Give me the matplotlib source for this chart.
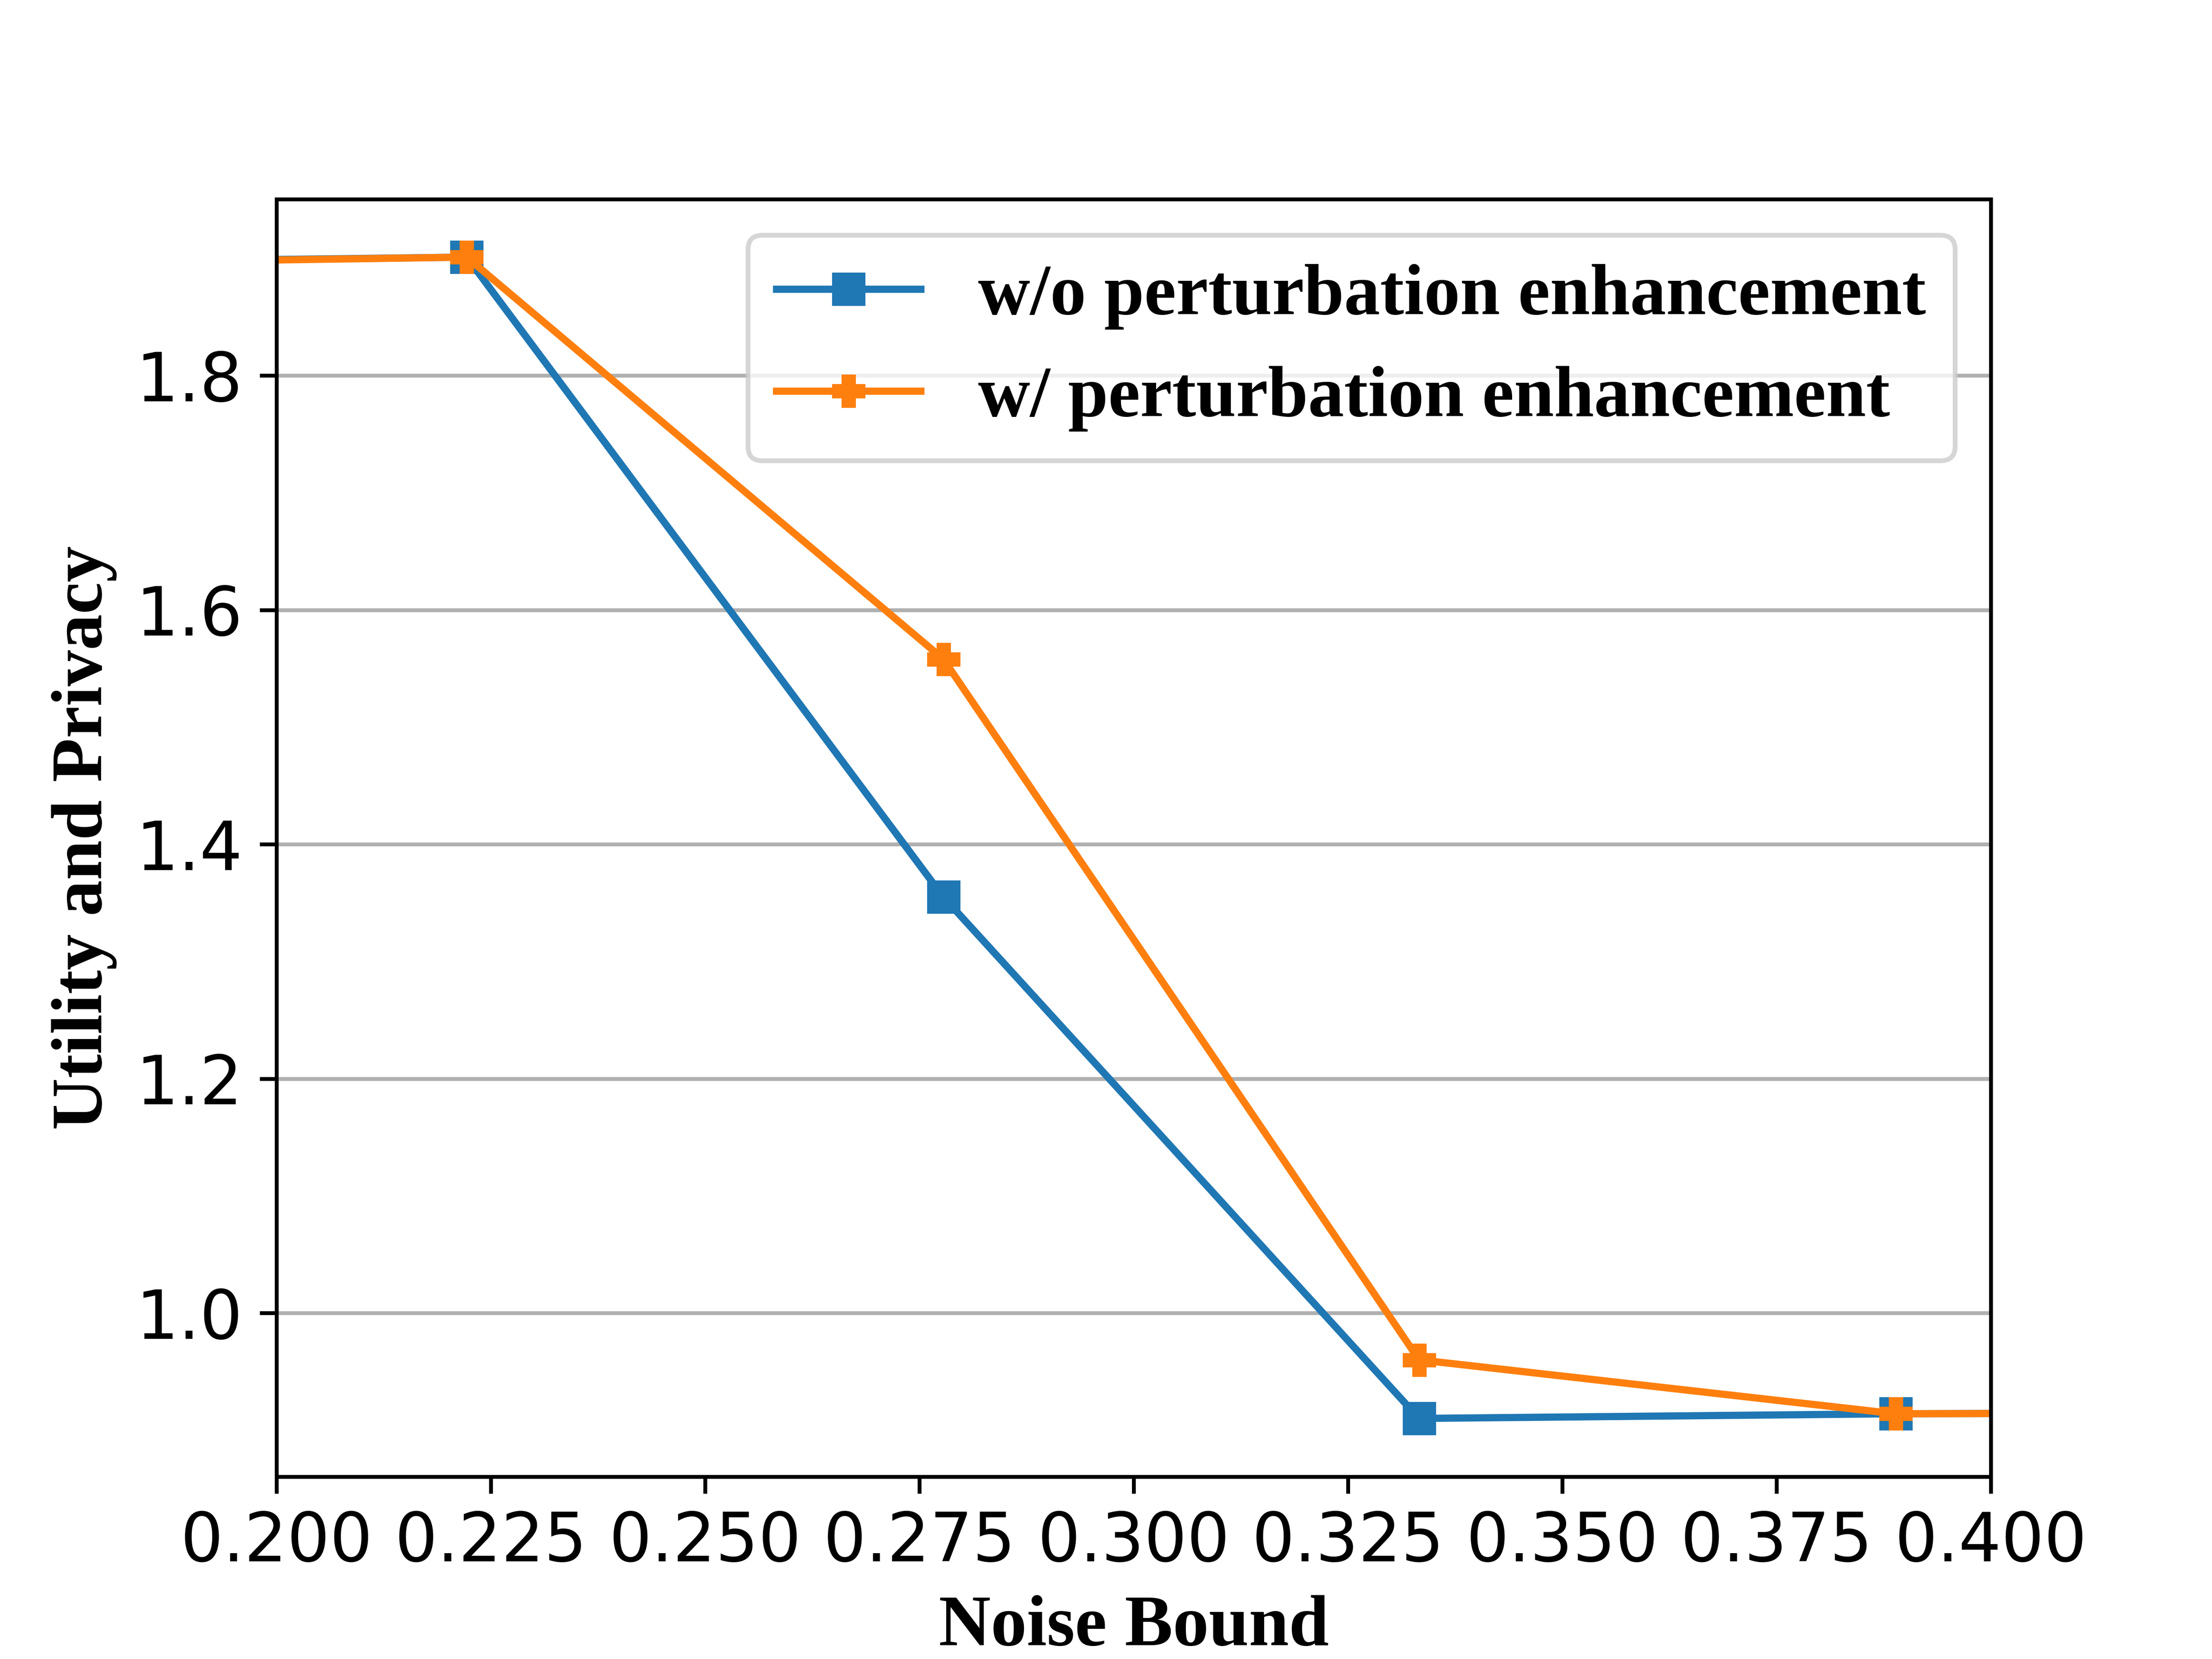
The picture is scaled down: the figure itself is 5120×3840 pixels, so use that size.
import numpy as np
import matplotlib
matplotlib.use('Agg')
import matplotlib.pyplot as plt

# noise bound values (some fall just outside the shown x range)
noise = [0.1667, 0.2222, 0.2778, 0.3333, 0.3889, 0.4444]
wo_enh = [1.896, 1.901, 1.355, 0.910, 0.914, 0.915]
w_enh = [1.895, 1.901, 1.558, 0.960, 0.914, 0.915]

xticks = [0.200, 0.225, 0.250, 0.275, 0.300, 0.325, 0.350, 0.375, 0.400]
yticks = [1.0, 1.2, 1.4, 1.6, 1.8]

serif_bold = {'family': 'Liberation Serif', 'weight': 'bold', 'size': 15}

fig, ax = plt.subplots(figsize=(6.4, 4.8), dpi=800)

ax.plot(noise, wo_enh, marker='s', color='#1f77b4', label='w/o perturbation enhancement')
ax.plot(noise, w_enh, marker='P', color='#ff7f0e', label='w/ perturbation enhancement')

ax.set_xlim(0.2, 0.4)
ax.set_xticks(xticks)
ax.set_yticks(yticks)
ax.tick_params(labelsize=14)
ax.grid(axis='y')

ax.set_xlabel('Noise Bound', fontdict=serif_bold)
ax.set_ylabel('Utility and Privacy', fontdict=serif_bold)
ax.legend(loc='upper right', prop={'family': 'Liberation Serif', 'weight': 'bold', 'size': 15})

plt.savefig('out.png', dpi=800)
